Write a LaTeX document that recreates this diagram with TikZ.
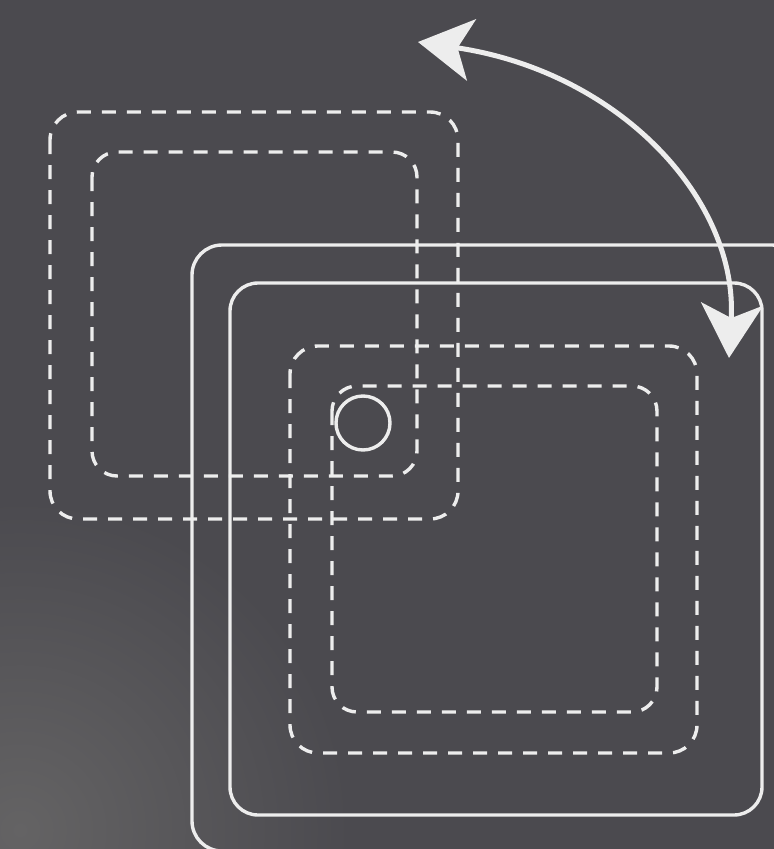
\documentclass[tikz,border=0pt]{standalone}
\usetikzlibrary{arrows.meta}
\definecolor{bgtop}{HTML}{4B4A4F}
\definecolor{bglight}{HTML}{646364}
\definecolor{ink}{HTML}{EDEDED}
\begin{document}
\begin{tikzpicture}[x=1pt,y=-1pt,
  dashbox/.style={draw=ink,line width=3.4pt,dash pattern=on 14pt off 11pt,rounded corners=28pt},
  solidbox/.style={draw=ink,line width=3.4pt,rounded corners=30pt},
  arc arrow/.style={draw=ink,line width=5pt,{Stealth[length=54pt,width=62pt,inset=14pt]}-{Stealth[length=54pt,width=62pt,inset=14pt]}}]
\useasboundingbox (0,0) rectangle (774,849);
\fill[bgtop] (0,0) rectangle (774,849);
\begin{scope}
\clip (0,0) rectangle (774,849);
\shade[inner color=bglight,outer color=bgtop] (20,830) circle (330pt);
\end{scope}
% dashed upper-left pair
\draw[dashbox] (50,112) rectangle (458,519);
\draw[dashbox,rounded corners=25pt] (92,152) rectangle (417,476);
% solid frames
\draw[solidbox] (192,245) rectangle (802,851);
\draw[solidbox,rounded corners=28pt] (230,283) rectangle (762,815);
% dashed lower-right pair
\draw[dashbox] (290,346) rectangle (697,753);
\draw[dashbox,rounded corners=25pt] (332,386) rectangle (657,712);
% small circle
\draw[ink,line width=3.4pt] (363,423) circle (27pt);
% double arrow
\coordinate (a1) at (418,42);
\coordinate (a2) at (729,358);
\draw[arc arrow] (a1) .. controls (620,72) and (738,200) .. (a2);
\end{tikzpicture}
\end{document}
